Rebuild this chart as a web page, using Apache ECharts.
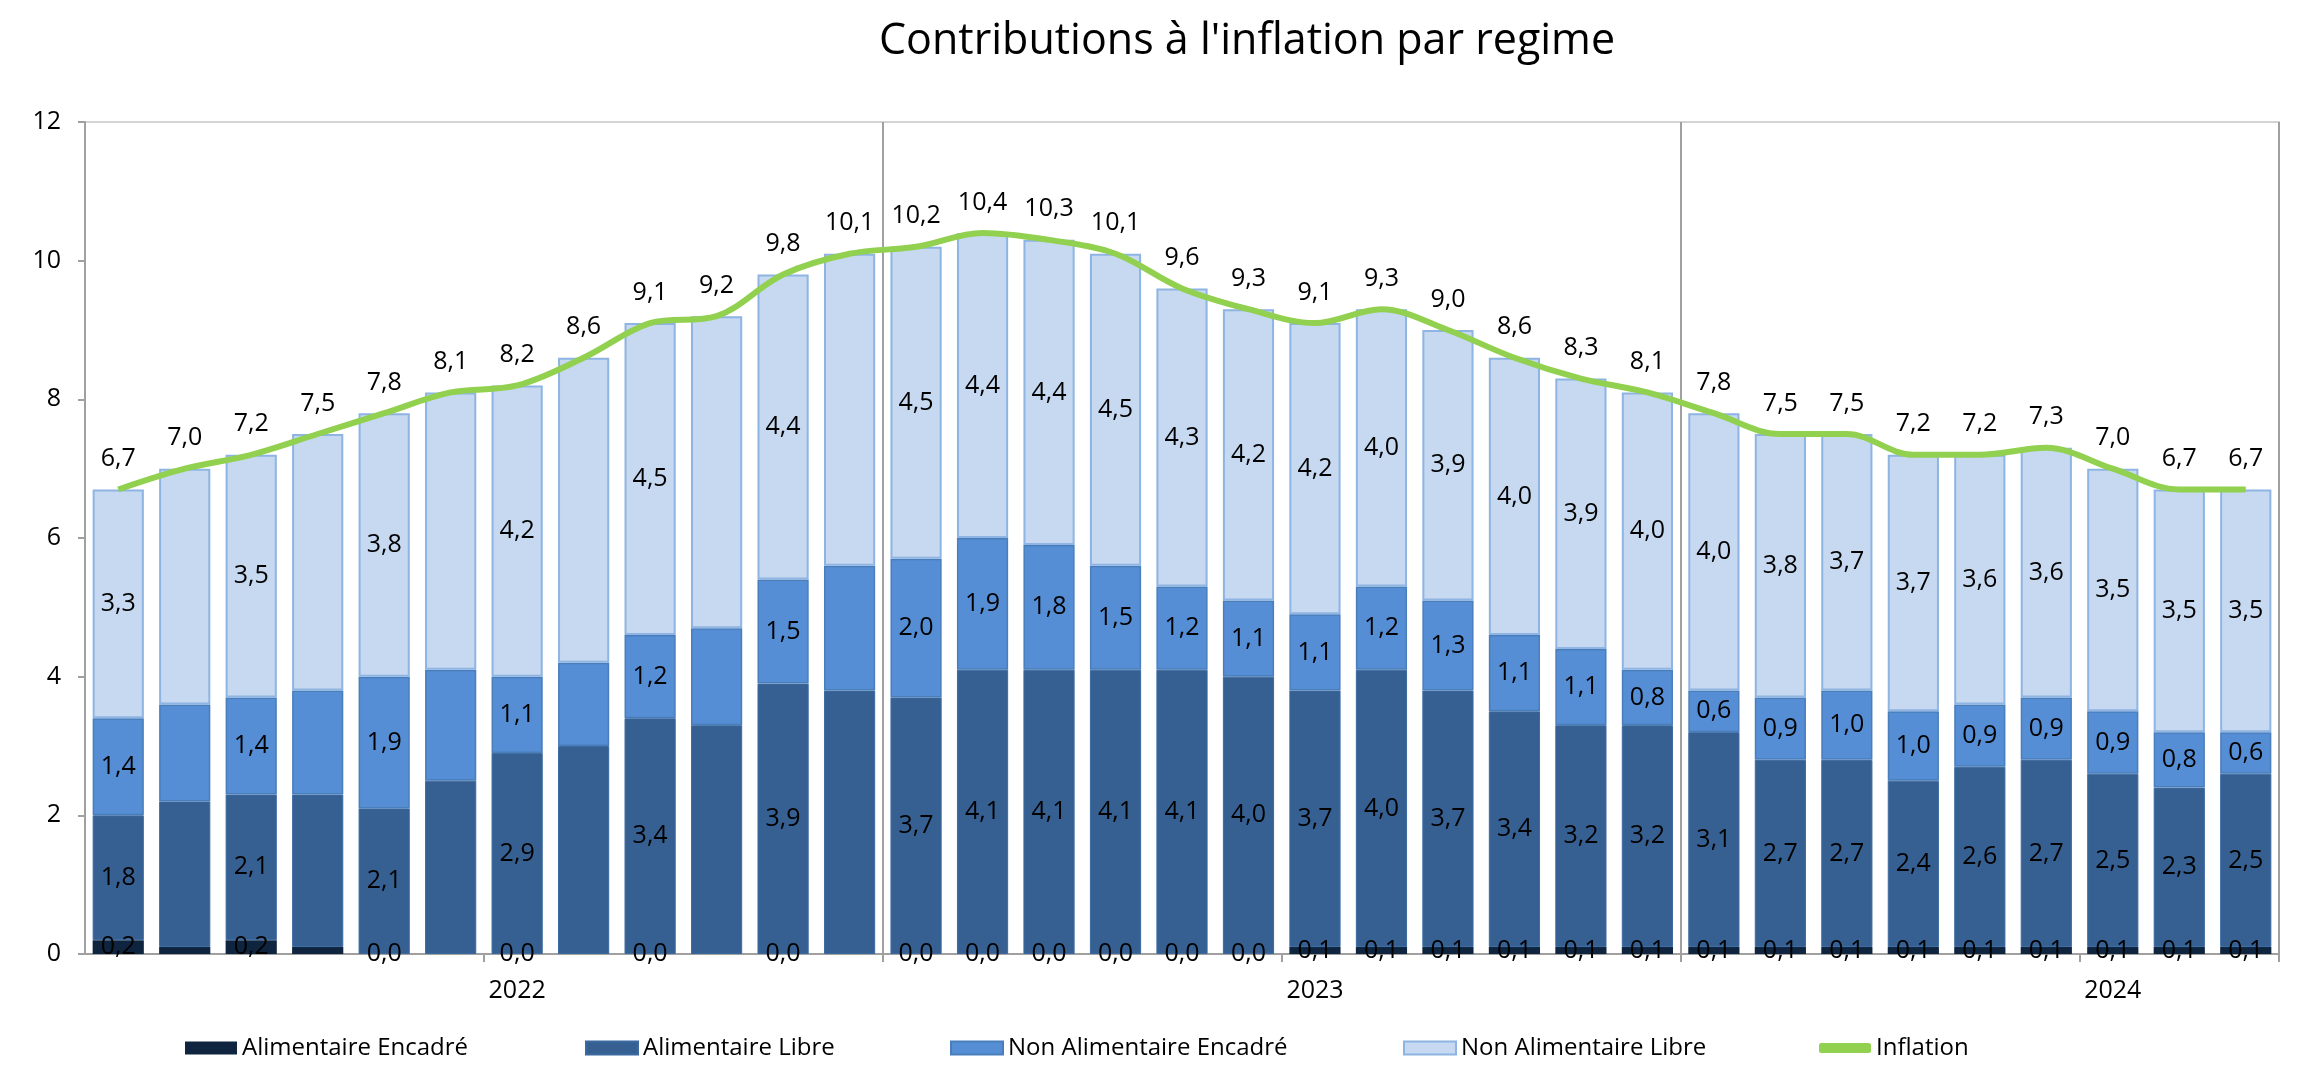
<!DOCTYPE html>
<html>
<head>
<meta charset="utf-8">
<script src="https://cdn.jsdelivr.net/npm/echarts@6/dist/echarts.min.js"></script>
<style>
html,body{margin:0;padding:0;background:#fff;}
#chart{width:2313px;height:1073px;}
</style>
</head>
<body>
<div id="chart"></div>
<script>
const categories = ['2022-01','2022-02','2022-03','2022-04','2022-05','2022-06','2022-07','2022-08','2022-09','2022-10','2022-11','2022-12',
  '2023-01','2023-02','2023-03','2023-04','2023-05','2023-06','2023-07','2023-08','2023-09','2023-10','2023-11','2023-12',
  '2024-01','2024-02','2024-03','2024-04','2024-05','2024-06','2024-07','2024-08','2024-09'];
const alimEncadre = [0.2,0.1,0.2,0.1,0.0,0.0,0.0,0.0,0.0,0.0,0.0,0.0,
  0.0,0.0,0.0,0.0,0.0,0.0,0.1,0.1,0.1,0.1,0.1,0.1,
  0.1,0.1,0.1,0.1,0.1,0.1,0.1,0.1,0.1];
const alimLibre = [1.8,2.1,2.1,2.2,2.1,2.5,2.9,3.0,3.4,3.3,3.9,3.8,
  3.7,4.1,4.1,4.1,4.1,4.0,3.7,4.0,3.7,3.4,3.2,3.2,
  3.1,2.7,2.7,2.4,2.6,2.7,2.5,2.3,2.5];
const nonAlimEncadre = [1.4,1.4,1.4,1.5,1.9,1.6,1.1,1.2,1.2,1.4,1.5,1.8,
  2.0,1.9,1.8,1.5,1.2,1.1,1.1,1.2,1.3,1.1,1.1,0.8,
  0.6,0.9,1.0,1.0,0.9,0.9,0.9,0.8,0.6];
const nonAlimLibre = [3.3,3.4,3.5,3.7,3.8,4.0,4.2,4.4,4.5,4.5,4.4,4.5,
  4.5,4.4,4.4,4.5,4.3,4.2,4.2,4.0,3.9,4.0,3.9,4.0,
  4.0,3.8,3.7,3.7,3.6,3.6,3.5,3.5,3.5];
const inflation = [6.7,7.0,7.2,7.5,7.8,8.1,8.2,8.6,9.1,9.2,9.8,10.1,
  10.2,10.4,10.3,10.1,9.6,9.3,9.1,9.3,9.0,8.6,8.3,8.1,
  7.8,7.5,7.5,7.2,7.2,7.3,7.0,6.7,6.7];
// which months carry segment labels (1 = shown)
const segLabelShown = [1,0,1,0,1,0,1,0,1,0,1,0,
  1,1,1,1,1,1,1,1,1,1,1,1,
  1,1,1,1,1,1,1,1,1];
const yTicks = [0,2,4,6,8,10,12];

const FONT = '"Open Sans", "Noto Sans", sans-serif';
const fmt = v => Number(v).toFixed(1).replace('.', ',');
const withLabels = arr => arr.map((v,i) => ({value: v, label: {show: segLabelShown[i] === 1}}));
const lblStyle = {position: 'inside', color: '#000', fontSize: 25, fontFamily: FONT,
  formatter: p => fmt(p.value)};

const names = ['Alimentaire Encadré','Alimentaire Libre','Non Alimentaire Encadré','Non Alimentaire Libre','Inflation'];
const legendLeft = [180, 580, 945, 1398, 1814];

const chart = echarts.init(document.getElementById('chart'), null, {renderer: 'canvas'});
chart.setOption({
  animation: false,
  backgroundColor: '#fff',
  title: {
    text: "Contributions à l'inflation par regime",
    left: 874, top: 15,
    textStyle: {fontFamily: FONT, fontSize: 43, fontWeight: 'normal', color: '#000'}
  },
  legend: names.map((n, i) => ({
    data: [n], left: legendLeft[i], top: 1031,
    itemWidth: 52, itemHeight: i === 4 ? 10 : 13,
    icon: i === 4 ? 'roundRect' : 'rect',
    selectedMode: false,
    textStyle: {fontFamily: FONT, fontSize: 24, color: '#000'}
  })),
  grid: {left: 85, right: 34, top: 122, bottom: 119, show: true, borderColor: '#d4d4d4', borderWidth: 2},
  xAxis: {
    type: 'category', data: categories,
    axisLine: {lineStyle: {color: '#a0a0a0', width: 2}},
    axisTick: {show: true, length: 8, lineStyle: {color: '#a0a0a0', width: 2},
      interval: (i) => i === 6 || i === 12 || i === 18 || i === 24 || i === 30},
    axisLabel: {interval: (i) => i === 6 || i === 18 || i === 30,
      formatter: v => v.slice(0, 4), margin: 24,
      fontFamily: FONT, fontSize: 25, color: '#000'},
    splitLine: {show: true, interval: (i) => i === 12 || i === 24,
      lineStyle: {color: '#a0a0a0', width: 2}}
  },
  yAxis: {
    type: 'value', min: yTicks[0], max: yTicks[yTicks.length - 1], interval: 2,
    axisLine: {show: true, lineStyle: {color: '#a0a0a0', width: 2}},
    axisTick: {show: true, length: 7, lineStyle: {color: '#a0a0a0', width: 2}},
    axisLabel: {margin: 24, fontFamily: FONT, fontSize: 25, color: '#000'},
    splitLine: {show: false}
  },
  series: [
    {name: names[0], type: 'bar', stack: 's', barCategoryGap: '23%', data: withLabels(alimEncadre),
      itemStyle: {color: '#0F243E'}, label: lblStyle},
    {name: names[1], type: 'bar', stack: 's', data: withLabels(alimLibre),
      itemStyle: {color: '#376092', borderColor: '#3a6aa0', borderWidth: 1}, label: lblStyle},
    {name: names[2], type: 'bar', stack: 's', data: withLabels(nonAlimEncadre),
      itemStyle: {color: '#558ED5', borderColor: '#4a7ebb', borderWidth: 1.5}, label: lblStyle},
    {name: names[3], type: 'bar', stack: 's', data: withLabels(nonAlimLibre),
      itemStyle: {color: '#C6D9F1', borderColor: '#8DB4E2', borderWidth: 2}, label: lblStyle},
    {name: names[4], type: 'line', data: inflation, smooth: 0.35,
      symbol: 'circle', symbolSize: 0, showSymbol: true,
      z: 5,
      lineStyle: {color: '#92D050', width: 6},
      itemStyle: {color: '#92D050'},
      label: {show: true, position: 'top', distance: 18, color: '#000', fontSize: 25, fontFamily: FONT,
        formatter: p => fmt(p.value)}}
  ]
});
</script>
</body>
</html>
